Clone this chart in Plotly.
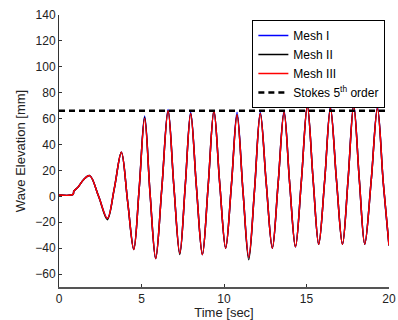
import plotly.graph_objects as go

# ---- data ----
time_mesh3 = [0, 0.85, 0.9, 1.15, 1.5, 1.86, 2.4, 2.93, 3.35, 3.78, 4.16, 4.53, 4.86, 5.19,
              5.52, 5.86, 6.23, 6.61, 6.96, 7.32, 7.65, 7.98, 8.33, 8.69, 9.04, 9.39, 9.74,
              10.1, 10.45, 10.79, 11.15, 11.5, 11.85, 12.2, 12.56, 12.93, 13.28, 13.64, 13.98,
              14.33, 14.69, 15.05, 15.4, 15.74, 16.1, 16.45, 16.82, 17.18, 17.52, 17.86, 18.2,
              18.53, 18.92, 19.3, 19.65, 20.0]
mesh3 = [1, 1.5, 4, 7, 13, 16, 0, -17, 6, 34, -4, -41, 6, 60,
         2, -48, 6, 66, 8, -44, 8, 64, 7, -45, 8, 66, 10,
         -40, 9, 63, 4, -47, 5, 64, 10, -40, 10, 65, 10,
         -39, 12, 70, 13, -37, 12, 68, 12, -37, 13, 70, 13,
         -37, 12, 68, 11, -38]
time_mesh1 = time_mesh3
mesh1 = [1, 1.5, 4, 7, 13, 16, 0, -17, 6, 34, -4, -41, 6, 62,
         2, -48, 6, 67, 8, -44, 8, 65, 7, -45, 8, 66, 10,
         -40, 9, 65, 4, -47, 5, 65, 10, -40, 10, 66, 10,
         -39, 12, 70, 13, -37, 12, 69, 12, -37, 13, 71, 13,
         -37, 12, 69, 11, -38]
time_mesh2 = time_mesh3
mesh2 = [1, 1.5, 4, 7, 13, 16, 0, -18, 6, 34, -4, -41, 6, 61,
         2, -48, 6, 66, 8, -45, 8, 64, 7, -45, 8, 66, 10,
         -40, 9, 63, 4, -49, 5, 64, 10, -40, 10, 65, 10,
         -39, 12, 70, 13, -37, 12, 68, 12, -37, 13, 70, 13,
         -37, 12, 68, 11, -38]
stokes_time = [0, 20]
stokes = [66, 66]

x_ticks = [0, 5, 10, 15, 20]
y_ticks = [-60, -40, -20, 0, 20, 40, 60, 80, 100, 120, 140]

fig = go.Figure()
fig.add_trace(go.Scatter(x=time_mesh1, y=mesh1, mode="lines", name="Mesh I",
                         line=dict(color="#0000ff", width=1.5, shape="spline", smoothing=1.0)))
fig.add_trace(go.Scatter(x=time_mesh2, y=mesh2, mode="lines", name="Mesh II",
                         line=dict(color="#000000", width=1.5, shape="spline", smoothing=1.0)))
fig.add_trace(go.Scatter(x=time_mesh3, y=mesh3, mode="lines", name="Mesh III",
                         line=dict(color="#ff0000", width=1.5, shape="spline", smoothing=1.0)))
fig.add_trace(go.Scatter(x=stokes_time, y=stokes, mode="lines",
                         name="Stokes 5<sup>th</sup> order",
                         line=dict(color="#000000", width=2.5, dash="6px,4px")))

FONT = "Liberation Sans, Arial, sans-serif"
tick_font = dict(family=FONT, size=12, color="#222222")
title_font = dict(family=FONT, size=13, color="#222222")
fig.update_layout(
    width=398, height=320,
    margin=dict(l=59, r=9, t=15, b=33),
    paper_bgcolor="white", plot_bgcolor="white",
    font=tick_font,
    showlegend=True,
    legend=dict(x=0.989, y=0.982, xanchor="right", yanchor="top",
                bgcolor="white", bordercolor="#000000", borderwidth=1,
                font=dict(family=FONT, size=12, color="#000000"),
                tracegroupgap=0, itemwidth=30),
    xaxis=dict(range=[0, 20], tickvals=x_ticks, ticks="inside", ticklen=3,
               tickcolor="#333333", showline=True, linecolor="#555555", linewidth=1.5,
               showgrid=False, zeroline=False, tickfont=tick_font, automargin=False,
               title=dict(text="Time [sec]", font=title_font, standoff=4)),
    yaxis=dict(range=[-70, 140], tickvals=y_ticks, ticks="inside", ticklen=3,
               tickcolor="#333333", showline=True, linecolor="#333333", linewidth=1,
               showgrid=False, zeroline=False, tickfont=tick_font, automargin=False,
               title=dict(text="Wave Elevation [mm]", font=title_font, standoff=6)),
)

fig.write_html("out.html", config={"displayModeBar": False},
               post_script="document.body.style.margin='0';")
